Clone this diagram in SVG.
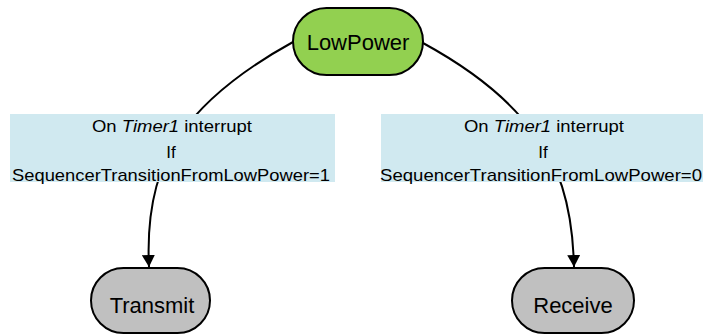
<svg xmlns="http://www.w3.org/2000/svg" width="705" height="335" viewBox="0 0 705 335">
<style>
.node{stroke:#000;stroke-width:2}
.green{fill:#92d050}
.gray{fill:#c0c0c0}
.ntext{font-family:"Liberation Sans",Arial,sans-serif;font-size:22px;fill:#000;text-anchor:middle}
.edge{fill:none;stroke:#000;stroke-width:2}
.lbox{fill:#d0e9f0}
.ltext{font-family:"Liberation Sans",Arial,sans-serif;font-size:17px;fill:#000;text-anchor:middle}
</style>
<defs>
<marker id="arrow" markerUnits="userSpaceOnUse" markerWidth="13" markerHeight="13" refX="12" refY="6.5" orient="auto">
<path d="M0,0 L12,6.5 L0,13 z" fill="#000"/>
</marker>
</defs>
<g id="connectors">
<path class="edge" d="M293,42 Q215,85 180,135 Q145,185 149,267" marker-end="url(#arrow)"/>
<path class="edge" d="M423,43 Q500,85 535,135 Q572,180 574,267" marker-end="url(#arrow)"/>
<g id="label-left">
<rect class="lbox" x="10" y="114" width="325" height="68"/>
<text class="ltext" x="172" y="131.5" textLength="160" lengthAdjust="spacingAndGlyphs">On <tspan font-style="italic">Timer1</tspan> interrupt</text>
<text class="ltext" x="171" y="158">If</text>
<text class="ltext" x="171" y="181" textLength="318" lengthAdjust="spacingAndGlyphs">SequencerTransitionFromLowPower=1</text>
</g>
<g id="label-right">
<rect class="lbox" x="381" y="114" width="322" height="68"/>
<text class="ltext" x="544" y="131.5" textLength="160" lengthAdjust="spacingAndGlyphs">On <tspan font-style="italic">Timer1</tspan> interrupt</text>
<text class="ltext" x="543" y="158">If</text>
<text class="ltext" x="541" y="181" textLength="322" lengthAdjust="spacingAndGlyphs">SequencerTransitionFromLowPower=0</text>
</g>
</g>
<g id="LowPower">
<rect class="node green" x="293" y="8" width="130" height="67" rx="33.5"/>
<text class="ntext" x="358" y="49.5">LowPower</text>
</g>
<g id="Transmit">
<rect class="node gray" x="91" y="268" width="119" height="65" rx="32.5"/>
<text class="ntext" x="152" y="313">Transmit</text>
</g>
<g id="Receive">
<rect class="node gray" x="512" y="268" width="122" height="65" rx="32.5"/>
<text class="ntext" x="573" y="313">Receive</text>
</g>
</svg>
